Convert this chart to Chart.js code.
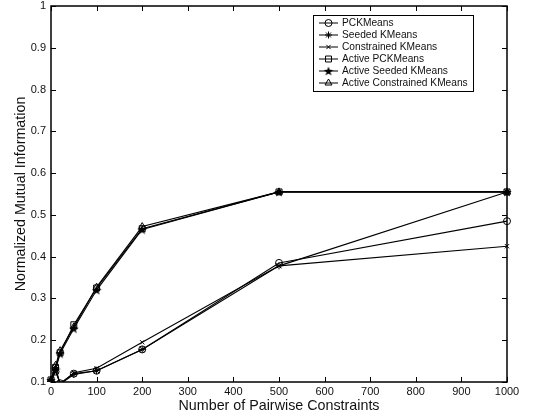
<!DOCTYPE html>
<html>
<head>
<meta charset="utf-8">
<script src="https://cdn.jsdelivr.net/npm/chart.js@4.4.1/dist/chart.umd.min.js"></script>
<style>
  html, body { margin: 0; padding: 0; background: #fff; }
  #wrap { width: 546px; height: 420px; }
</style>
</head>
<body>
<div id="wrap"><canvas id="c" width="546" height="420"></canvas></div>
<script>
// ---- data ----
const xValues = [0, 10, 20, 50, 100, 200, 500, 1000];
const pckMeans            = [0.100, 0.125, 0.097, 0.120, 0.127, 0.178, 0.385, 0.485];
const seededKMeans        = [0.100, 0.130, 0.095, 0.118, 0.127, 0.178, 0.378, 0.555];
const constrainedKMeans   = [0.100, 0.135, 0.095, 0.122, 0.133, 0.195, 0.378, 0.425];
const activePCKMeans      = [0.105, 0.135, 0.170, 0.237, 0.325, 0.467, 0.555, 0.555];
const activeSeededKMeans  = [0.105, 0.130, 0.168, 0.228, 0.320, 0.465, 0.555, 0.555];
const activeConstrKMeans  = [0.105, 0.140, 0.175, 0.232, 0.327, 0.472, 0.555, 0.555];
const seriesNames = ['PCKMeans', 'Seeded KMeans', 'Constrained KMeans',
                     'Active PCKMeans', 'Active Seeded KMeans', 'Active Constrained KMeans'];
const xTicks = [0, 100, 200, 300, 400, 500, 600, 700, 800, 900, 1000];
const yTicks = [0.1, 0.2, 0.3, 0.4, 0.5, 0.6, 0.7, 0.8, 0.9, 1];
const xTitle = 'Number of Pairwise Constraints';
const yTitle = 'Normalized Mutual Information';

// five-point filled star marker
function makeStar(size) {
  const cv = document.createElement('canvas');
  cv.width = size; cv.height = size;
  const g = cv.getContext('2d');
  const cx = size / 2, cy = size / 2 + 0.5, R = size / 2, r = R * 0.42;
  g.beginPath();
  for (let i = 0; i < 10; i++) {
    const rad = (i % 2 === 0) ? R : r;
    const a = -Math.PI / 2 + i * Math.PI / 5;
    const px = cx + rad * Math.cos(a), py = cy + rad * Math.sin(a);
    if (i === 0) g.moveTo(px, py); else g.lineTo(px, py);
  }
  g.closePath();
  g.fillStyle = '#000';
  g.fill();
  return cv;
}
const starImg = makeStar(10);

const styles = [
  { pointStyle: 'circle',    radius: 3.5, fill: 'rgba(0,0,0,0)' },
  { pointStyle: 'star',      radius: 3.5, fill: '#000' },
  { pointStyle: 'crossRot',  radius: 3,   fill: 'rgba(0,0,0,0)' },
  { pointStyle: 'rect',      radius: 4.2, fill: 'rgba(0,0,0,0)' },
  { pointStyle: starImg,     radius: 5,   fill: '#000' },
  { pointStyle: 'triangle',  radius: 4,   fill: 'rgba(0,0,0,0)' }
];
const allSeries = [pckMeans, seededKMeans, constrainedKMeans, activePCKMeans, activeSeededKMeans, activeConstrKMeans];

const datasets = allSeries.map((vals, i) => ({
  label: seriesNames[i],
  data: xValues.map((x, j) => ({ x: x, y: vals[j] })),
  borderColor: '#000',
  backgroundColor: styles[i].fill,
  borderWidth: 1.1,
  pointStyle: styles[i].pointStyle,
  pointRadius: styles[i].radius,
  pointBorderWidth: 1,
  pointBorderColor: '#000',
  pointBackgroundColor: styles[i].fill,
  tension: 0,
  clip: { left: 6, right: 6, top: 6, bottom: 0 }
}));

const FONT = '"Liberation Sans", Arial, Helvetica, sans-serif';

const framePlugin = {
  id: 'frame',
  afterDraw(chart) {
    const ctx = chart.ctx;
    const a = chart.chartArea;
    const xs = chart.scales.x, ys = chart.scales.y;
    ctx.save();
    // frame
    ctx.strokeStyle = '#000';
    ctx.lineWidth = 1.5;
    ctx.strokeRect(a.left, a.top, a.right - a.left, a.bottom - a.top);
    // inside ticks
    ctx.lineWidth = 1;
    const tl = 5;
    ctx.beginPath();
    xTicks.forEach(v => {
      const px = Math.round(xs.getPixelForValue(v)) + 0.5;
      ctx.moveTo(px, a.bottom); ctx.lineTo(px, a.bottom - tl);
      ctx.moveTo(px, a.top); ctx.lineTo(px, a.top + tl);
    });
    yTicks.forEach(v => {
      const py = Math.round(ys.getPixelForValue(v)) + 0.5;
      ctx.moveTo(a.left, py); ctx.lineTo(a.left + tl, py);
      ctx.moveTo(a.right, py); ctx.lineTo(a.right - tl, py);
    });
    ctx.stroke();

    // axis titles
    ctx.fillStyle = '#111';
    ctx.font = '14.3px ' + FONT;
    ctx.textAlign = 'center';
    ctx.textBaseline = 'middle';
    ctx.fillText(xTitle, (a.left + a.right) / 2, 406);
    ctx.save();
    ctx.translate(21, (a.top + a.bottom) / 2);
    ctx.rotate(-Math.PI / 2);
    ctx.fillText(yTitle, 0, 0);
    ctx.restore();

    // legend
    const lx = 313, ly = 15, lw = 160, lh = 76;
    ctx.fillStyle = '#fff';
    ctx.fillRect(lx, ly, lw, lh);
    ctx.strokeStyle = '#000';
    ctx.lineWidth = 1;
    ctx.strokeRect(lx + 0.5, ly + 0.5, lw, lh);
    ctx.font = '10.2px ' + FONT;
    ctx.textAlign = 'left';
    ctx.textBaseline = 'middle';
    seriesNames.forEach((name, i) => {
      const y = ly + 8 + i * 12;
      ctx.strokeStyle = '#000';
      ctx.lineWidth = 1;
      ctx.beginPath();
      ctx.moveTo(319, y); ctx.lineTo(338, y);
      ctx.stroke();
      const st = styles[i];
      ctx.fillStyle = st.fill;
      if (Chart.helpers && Chart.helpers.drawPoint) {
        Chart.helpers.drawPoint(ctx, { pointStyle: st.pointStyle, radius: st.radius, borderWidth: 1, rotation: 0 }, 328.5, y);
      }
      ctx.fillStyle = '#111';
      ctx.fillText(name, 342, y + 0.5);
    });
    ctx.restore();
  }
};

new Chart(document.getElementById('c'), {
  type: 'line',
  data: { datasets },
  options: {
    responsive: false,
    animation: false,
    devicePixelRatio: 1,
    layout: { padding: { top: 6, right: 39, left: 0, bottom: 0 } },
    plugins: { legend: { display: false }, tooltip: { enabled: false } },
    scales: {
      x: {
        type: 'linear',
        min: 0, max: 1000,
        afterBuildTicks: s => { s.ticks = xTicks.map(v => ({ value: v })); },
        afterFit: s => { s.height = 38; s.paddingLeft = 0; s.paddingRight = 0; },
        grid: { display: false, drawTicks: false },
        border: { display: false },
        ticks: {
          padding: 3,
          color: '#111',
          font: { family: FONT, size: 11 },
          maxRotation: 0,
          autoSkip: false,
          callback: v => String(v)
        }
      },
      y: {
        type: 'linear',
        min: 0.1, max: 1,
        afterBuildTicks: s => { s.ticks = yTicks.map(v => ({ value: v })); },
        afterFit: s => { s.width = 51; s.paddingTop = 0; s.paddingBottom = 0; },
        grid: { display: false, drawTicks: false },
        border: { display: false },
        ticks: {
          padding: 5,
          color: '#111',
          font: { family: FONT, size: 11 },
          autoSkip: false,
          callback: v => String(Number(v.toFixed(1)))
        }
      }
    }
  },
  plugins: [framePlugin]
});
</script>
</body>
</html>
